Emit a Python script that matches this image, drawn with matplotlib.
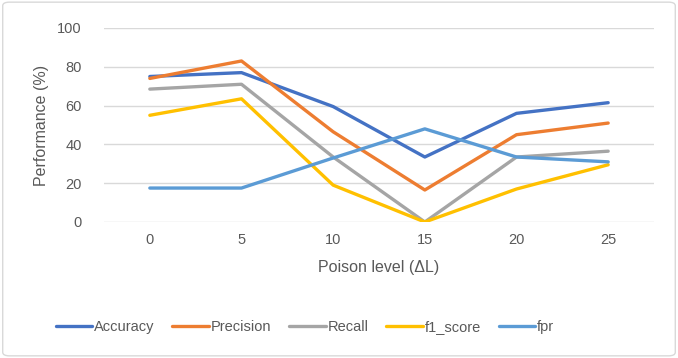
import matplotlib
matplotlib.use("Agg")
import matplotlib.pyplot as plt
from matplotlib.patches import FancyBboxPatch

# poison level (delta L) on x, metric values in percent
poison_levels = [0, 5, 10, 15, 20, 25]
accuracy = [75, 77, 59.5, 33.5, 56, 61.5]
precision = [74, 83, 46.5, 16.5, 45, 51]
recall = [68.5, 71, 33.5, 0, 33.5, 36.5]
f1_score = [55, 63.5, 19, 0, 17, 29.5]
fpr = [17.5, 17.5, 33, 48, 33.5, 31]

series = [("Accuracy", accuracy, "#4472C4"),
          ("Precision", precision, "#ED7D31"),
          ("Recall", recall, "#A5A5A5"),
          ("f1_score", f1_score, "#FFC000"),
          ("fpr", fpr, "#5B9BD5")]

plt.rcParams["font.family"] = ["Liberation Sans", "DejaVu Sans"]
txt = "#595959"

fig = plt.figure(figsize=(6.78, 3.58), dpi=100)
ax = fig.add_axes([104 / 678, 1 - 222 / 358, 550 / 678, 194 / 358])

for name, vals, col in series:
    ax.plot(poison_levels, vals, color=col, lw=2.4, label=name,
            solid_capstyle="round", solid_joinstyle="round")

ax.set_xlim(-2.5, 27.5)
ax.set_ylim(0, 100)
ax.set_xticks(poison_levels)
ax.set_yticks(range(0, 101, 20))
ax.grid(axis="y", color="#D9D9D9", lw=1)
ax.set_axisbelow(True)
for s in ax.spines.values():
    s.set_visible(False)
ax.tick_params(length=0, labelsize=10.5, colors=txt, pad=8)
ax.tick_params(axis="y", pad=16)
ax.set_xlabel("Poison level (\u0394L)", fontsize=11.5, color=txt, labelpad=9)
ax.set_ylabel("Performance (%)", fontsize=11.5, color=txt, labelpad=6)

leg = fig.legend(loc="center", bbox_to_anchor=(0.45, 1 - 327 / 358), ncol=5,
                 frameon=False, fontsize=10.5, handlelength=2.5,
                 handletextpad=0.15, columnspacing=1.2)
for t in leg.get_texts():
    t.set_color(txt)

# light chart border like the spreadsheet export
fig.patches.append(FancyBboxPatch((0.004, 0.006), 0.992, 0.988,
                                  boxstyle="round,pad=0,rounding_size=0.01",
                                  transform=fig.transFigure, fill=False,
                                  edgecolor="#D9D9D9", lw=1))

fig.savefig("out.png", dpi=100)
